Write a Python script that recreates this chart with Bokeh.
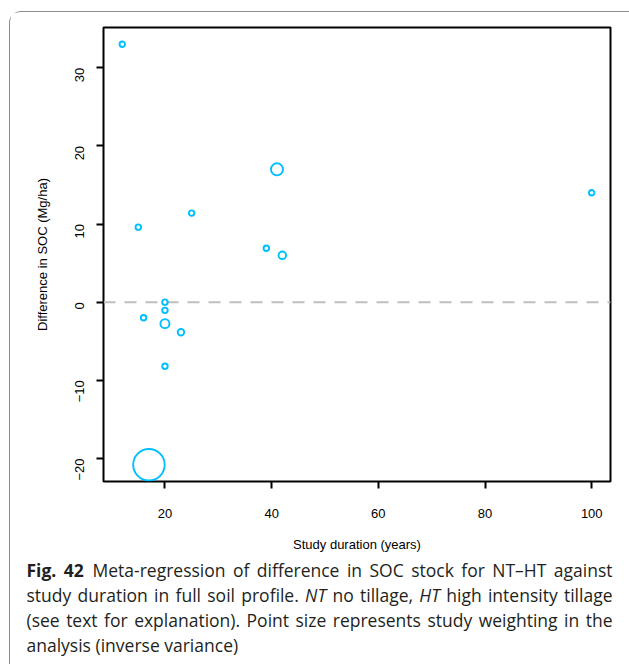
import math
from bokeh.plotting import figure
from bokeh.models import Range1d, FixedTicker, Span, ColumnDataSource, Div
from bokeh.layouts import column
from bokeh.embed import file_html
from bokeh.resources import INLINE

# ---- data ----
duration = [12, 15, 25, 41, 39, 42, 100, 20, 20, 16, 20, 23, 20, 17]
soc_diff = [33.0, 9.6, 11.4, 17.0, 6.9, 6.0, 14.0, 0.0, -1.05, -2.0, -2.75, -3.85, -8.2, -20.8]
weight = [1.0, 1.0, 1.0, 4.8, 1.0, 1.9, 1.0, 1.0, 1.0, 1.0, 2.7, 1.4, 1.0, 32.8]
x_ticks = [20, 40, 60, 80, 100]
y_ticks = [-20, -10, 0, 10, 20, 30]

x_label = "Study duration (years)"
y_label = "Difference in SOC (Mg/ha)"

caption_lines = [
    "<b>Fig.&nbsp;42</b>&ensp;Meta-regression of difference in SOC stock for NT\u2013HT against",
    "study duration in full soil profile. <i>NT</i> no tillage, <i>HT</i> high intensity tillage",
    "(see text for explanation). Point size represents study weighting in the",
    "analysis (inverse variance)",
]

# R-style 4% axis padding
def padded(vals):
    lo, hi = min(vals), max(vals)
    d = (hi - lo) * 0.04
    return lo - d, hi + d

x0, x1 = padded(duration)
y0, y1 = padded(soc_diff)

W, H = 619, 546
BL, BR, BT, BB = 93, 19, 15, 77

src = ColumnDataSource(dict(x=duration, y=soc_diff,
                            size=[5.5 * math.sqrt(w) for w in weight]))

p = figure(width=W, height=H, output_backend="svg", toolbar_location=None,
           x_range=Range1d(x0, x1), y_range=Range1d(y0, y1),
           min_border_left=BL, min_border_right=BR, min_border_top=BT,
           min_border_bottom=BB, background_fill_color="white",
           border_fill_color="white", margin=0)

p.xgrid.grid_line_color = None
p.ygrid.grid_line_color = None
p.outline_line_color = "black"
p.outline_line_width = 2
p.outline_line_alpha = 1

p.xaxis.ticker = FixedTicker(ticks=x_ticks)
p.yaxis.ticker = FixedTicker(ticks=y_ticks)
p.xaxis.axis_label = x_label
p.yaxis.axis_label = y_label
p.yaxis.major_label_orientation = math.pi / 2

for ax in (p.xaxis[0], p.yaxis[0]):
    ax.axis_line_color = None
    ax.major_tick_line_color = "black"
    ax.major_tick_line_width = 2
    ax.major_tick_out = 7
    ax.major_tick_in = 0
    ax.minor_tick_line_color = None
    ax.major_label_text_font = "Liberation Sans"
    ax.major_label_text_font_size = "13px"
    ax.major_label_text_color = "black"
    ax.axis_label_text_font = "Liberation Sans"
    ax.axis_label_text_font_size = "13px"
    ax.axis_label_text_font_style = "normal"
    ax.axis_label_text_color = "black"

p.xaxis.major_label_standoff = 20
p.yaxis.major_label_standoff = 17
p.xaxis.axis_label_standoff = 16
p.yaxis.axis_label_standoff = 18

p.add_layout(Span(location=0, dimension="width", line_color="#BEBEBE",
                  line_width=2, line_dash="12 9", level="underlay"))

p.scatter("x", "y", size="size", source=src, marker="circle",
          fill_color=None, line_color="#00BFFF", line_width=1.9)

line_tpl = ('<div style="text-align:justify;text-align-last:{last};'
            'height:25px;">{txt}</div>')
html = ('<div style="margin-left:16.5px;width:586px;font-family:\'Open Sans\';'
        'font-size:17.5px;line-height:25px;color:#231f20;">'
        + "".join(line_tpl.format(last=("justify" if i < 3 else "left"), txt=t)
                  for i, t in enumerate(caption_lines))
        + '</div>')

cap = Div(text=html, width=W, height=106, margin=0)

layout = column(p, cap, margin=(11, 0, 0, 9), spacing=0,
                styles={"border-left": "1px solid #8c8c8c",
                        "border-top": "1px solid #8c8c8c",
                        "border-top-left-radius": "12px",
                        "background": "white"})

open("out.html", "w").write(file_html(layout, INLINE))
